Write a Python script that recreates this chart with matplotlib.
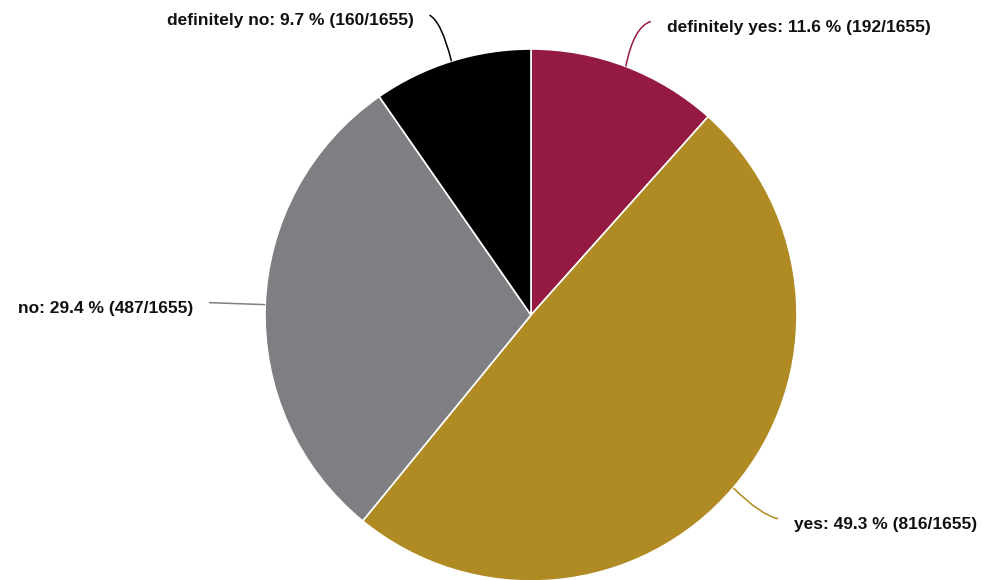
import numpy as np
import matplotlib
matplotlib.use("Agg")
import matplotlib.pyplot as plt
from matplotlib.path import Path
from matplotlib.patches import PathPatch

labels = ["definitely yes", "yes", "no", "definitely no"]
counts = [192, 816, 487, 160]
colors = ["#951a42", "#b08a22", "#7f7e83", "#000000"]
total = sum(counts)

plt.rcParams["font.family"] = ["Liberation Sans", "DejaVu Sans"]

fig = plt.figure(figsize=(9.83, 5.8), dpi=100)
ax = fig.add_axes([0, 0, 1, 1])

cx, cy, r = 531, 265, 266
ax.pie(counts, colors=colors, startangle=90, counterclock=False,
       center=(cx, cy), radius=r, frame=True,
       wedgeprops=dict(edgecolor="white", linewidth=1.2))
ax.set_xlim(0, 983)
ax.set_ylim(0, 580)
ax.axis("off")

# label anchor offsets (dx, dy from wedge edge), bezier control offset, alignment, text drop
layout = {
    "definitely yes": ((25, 45), (8, 40), "left", 6),
    "yes": ((45, -31), (27, -27), "left", 6),
    "no": ((-56, 2), (-28, 1), "right", 6),
    "definitely no": ((-22, 46), (-10, 40), "right", 5),
}

angle = 90.0
for lab, n, col in zip(labels, counts, colors):
    sweep = n / total * 360
    mid = np.radians(angle - sweep / 2)
    angle -= sweep
    x0, y0 = cx + r * np.cos(mid), cy + r * np.sin(mid)
    (dx, dy), (qx, qy), ha, drop = layout[lab]
    x1, y1 = x0 + dx, y0 + dy
    path = Path([(x0, y0), (x0 + qx, y0 + qy), (x1, y1)],
                [Path.MOVETO, Path.CURVE3, Path.CURVE3])
    ax.add_patch(PathPatch(path, fc="none", ec=col, lw=1.1))
    tx = x1 + (16 if ha == "left" else -16)
    ax.text(tx, y1 - drop,
            f"{lab}: {n / total * 100:.1f} % ({n}/{total})",
            ha=ha, va="center", fontsize=12.5, fontweight="bold", color="#111111")

fig.savefig("out.png", dpi=100)
